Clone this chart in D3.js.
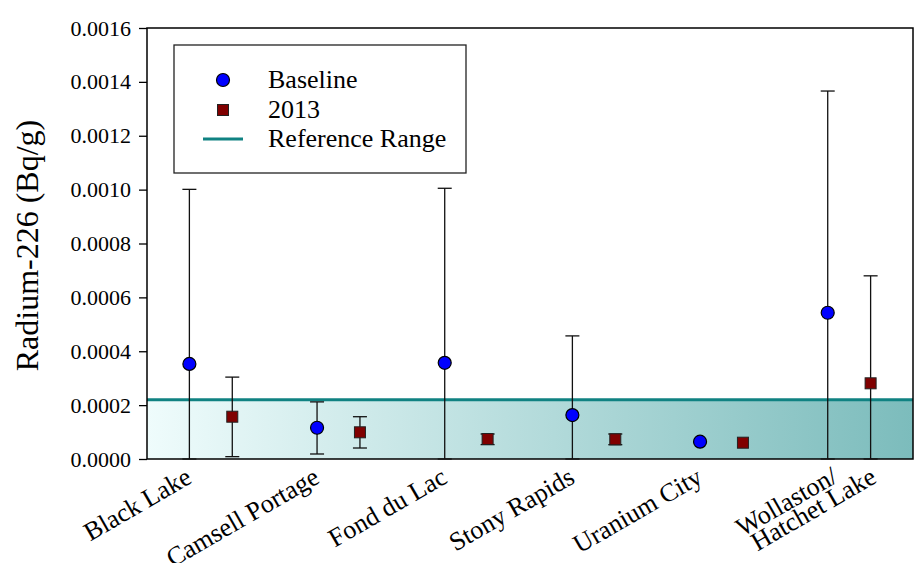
<!DOCTYPE html>
<html>
<head>
<meta charset="utf-8">
<script src="https://cdn.jsdelivr.net/npm/d3@7"></script>
<style>
  html, body { margin: 0; padding: 0; background: #fff; }
  svg { display: block; }
  text { font-family: "Liberation Serif", "Times New Roman", serif; fill: #000; }
</style>
</head>
<body>
<svg id="chart" width="918" height="563"></svg>
<script>
// Sampling communities (multi-line names split into lines)
const categoryLines = [
  ["Black Lake"],
  ["Camsell Portage"],
  ["Fond du Lac"],
  ["Stony Rapids"],
  ["Uranium City"],
  ["Wollaston/", "Hatchet Lake"]
];

// Baseline radium-226 (Bq/g) with lower / upper range
const baselineValue = [0.000353, 0.000116, 0.000357, 0.000163, 0.0000643, 0.000543];
const baselineLow   = [0,        0.0000186, 0,       0,        null,      0];
const baselineHigh  = [0.001001, 0.000212, 0.001005, 0.000457, null,      0.001366];

// 2013 radium-226 (Bq/g) with lower / upper range
const value2013 = [0.000157,  0.0000991, 0.0000742, 0.0000731, 0.0000605, 0.000281];
const low2013   = [0.0000087, 0.0000408, 0.0000535, 0.0000531, null,      0];
const high2013  = [0.000304,  0.000157,  0.0000928, 0.0000928, null,      0.00068];

// Upper limit of the reference range
const referenceUpper = 0.00022;

// Y axis ticks
const yTicks = [0, 0.0002, 0.0004, 0.0006, 0.0008, 0.0010, 0.0012, 0.0014, 0.0016];

const W = 918, H = 563;
const margin = { top: 28, right: 5, bottom: 104, left: 147 };
const svg = d3.select("#chart");

const x = d3.scaleBand()
  .domain(d3.range(categoryLines.length))
  .range([margin.left, W - margin.right])
  .padding(0);
const y = d3.scaleLinear()
  .domain([0, 0.0016])
  .range([H - margin.bottom, margin.top]);

const offset = x.bandwidth() * 0.168;
const cx = i => x(i) + x.bandwidth() / 2;

// Gradient fill for the reference band
const defs = svg.append("defs");
const grad = defs.append("linearGradient")
  .attr("id", "refGrad")
  .attr("gradientUnits", "userSpaceOnUse")
  .attr("x1", margin.left).attr("x2", W - margin.right)
  .attr("y1", 0).attr("y2", 0);
grad.append("stop").attr("offset", "0%").attr("stop-color", "#effcfc");
grad.append("stop").attr("offset", "100%").attr("stop-color", "#7cbcbc");

svg.append("rect")
  .attr("x", margin.left)
  .attr("y", y(referenceUpper))
  .attr("width", W - margin.right - margin.left)
  .attr("height", y(0) - y(referenceUpper))
  .attr("fill", "url(#refGrad)");

svg.append("line")
  .attr("x1", margin.left).attr("x2", W - margin.right)
  .attr("y1", y(referenceUpper)).attr("y2", y(referenceUpper))
  .attr("stroke", "#108282").attr("stroke-width", 3);

// Y axis
const yAxis = svg.append("g")
  .attr("transform", `translate(${margin.left},0)`)
  .call(d3.axisLeft(y).tickValues(yTicks).tickFormat(d => d.toFixed(4)).tickSize(8).tickSizeOuter(0).tickPadding(8));
yAxis.select(".domain").remove();
yAxis.selectAll(".tick line").attr("stroke", "#000").attr("stroke-width", 1.3);
yAxis.selectAll(".tick text")
  .attr("font-size", 22)
  .attr("font-family", "Liberation Serif, Times New Roman, serif")
  .attr("fill", "#000");

// Plot frame
svg.append("rect")
  .attr("x", margin.left).attr("y", margin.top)
  .attr("width", W - margin.right - margin.left)
  .attr("height", H - margin.bottom - margin.top)
  .attr("fill", "none").attr("stroke", "#000").attr("stroke-width", 1.5);

// Y axis title
svg.append("text")
  .attr("transform", `translate(38,${(margin.top + H - margin.bottom) / 2 + 2}) rotate(-90)`)
  .attr("text-anchor", "middle")
  .attr("font-size", 32)
  .text("Radium-226 (Bq/g)");

// Category labels, slanted; two-line names are packed tightly
const lineLayout = [{ x: -105, y: 3 }, { x: -99, y: 23 }];
const labels = svg.append("g").selectAll("g")
  .data(categoryLines)
  .join("g")
  .attr("transform", (d, i) => `translate(${cx(i) - 17.5},482) rotate(-30)`);
labels.each(function(lines) {
  const g = d3.select(this);
  if (lines.length === 1) {
    g.append("text").attr("text-anchor", "end").attr("font-size", 26).text(lines[0]);
  } else {
    lines.forEach((t, k) => {
      g.append("text")
        .attr("text-anchor", "start")
        .attr("x", lineLayout[k].x)
        .attr("y", lineLayout[k].y)
        .attr("font-size", 26)
        .text(t);
    });
  }
});

// Error bars
function errorBars(values, lows, highs, dx) {
  const g = svg.append("g").attr("stroke", "#111").attr("stroke-width", 1.3);
  values.forEach((v, i) => {
    if (lows[i] == null || highs[i] == null) return;
    const px = cx(i) + dx;
    g.append("line").attr("x1", px).attr("x2", px)
      .attr("y1", y(lows[i])).attr("y2", y(highs[i]));
    [lows[i], highs[i]].forEach(b => {
      g.append("line").attr("x1", px - 7).attr("x2", px + 7)
        .attr("y1", y(b)).attr("y2", y(b));
    });
  });
}
errorBars(baselineValue, baselineLow, baselineHigh, -offset);
errorBars(value2013, low2013, high2013, offset);

// Markers
svg.append("g").selectAll("circle")
  .data(baselineValue)
  .join("circle")
  .attr("cx", (d, i) => cx(i) - offset)
  .attr("cy", d => y(d))
  .attr("r", 6.5)
  .attr("fill", "#0000ff")
  .attr("stroke", "#000").attr("stroke-width", 1.2);

svg.append("g").selectAll("rect")
  .data(value2013)
  .join("rect")
  .attr("x", (d, i) => cx(i) + offset - 5.5)
  .attr("y", d => y(d) - 5.5)
  .attr("width", 11).attr("height", 11)
  .attr("fill", "#800000")
  .attr("stroke", "#222").attr("stroke-width", 1);

// Legend
const lg = svg.append("g");
lg.append("rect")
  .attr("x", 174).attr("y", 45).attr("width", 292).attr("height", 128)
  .attr("fill", "#fff").attr("stroke", "#222").attr("stroke-width", 1.3);
lg.append("circle").attr("cx", 223).attr("cy", 80).attr("r", 6.5)
  .attr("fill", "#0000ff").attr("stroke", "#000").attr("stroke-width", 1.2);
lg.append("rect").attr("x", 217.5).attr("y", 104.5).attr("width", 11).attr("height", 11)
  .attr("fill", "#800000").attr("stroke", "#222").attr("stroke-width", 1);
lg.append("line").attr("x1", 203).attr("x2", 243).attr("y1", 139).attr("y2", 139)
  .attr("stroke", "#108282").attr("stroke-width", 3);
const legendText = ["Baseline", "2013", "Reference Range"];
const legendBaselines = [88, 118, 147];
legendText.forEach((t, k) => {
  lg.append("text").attr("x", 268).attr("y", legendBaselines[k]).attr("font-size", 26).text(t);
});
</script>
</body>
</html>
